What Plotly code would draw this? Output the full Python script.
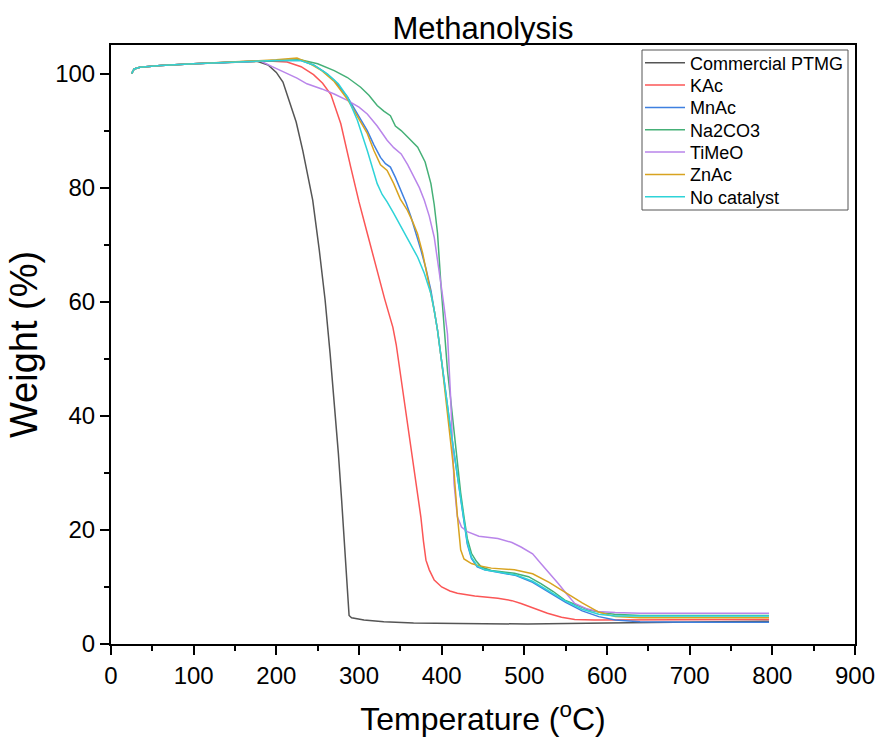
import plotly.graph_objects as go

# ---- data (temperature in degC, weight in %) ----
ptmg_T = [25, 28, 35, 60, 100, 150, 176, 190, 200, 208, 215, 224, 232, 238, 244, 252, 259, 265,
          270, 275, 279, 284, 288, 291, 306, 330, 366, 420, 504, 600, 700, 796]
ptmg_W = [100.0, 100.8, 101.1, 101.4, 101.7, 102.0, 102.2, 101.5, 100.2, 98.5, 95.5, 91.5, 86.5, 82.0, 77.8,
          69.0, 60.3, 51.0, 42.8, 33.5, 25.2, 15.0, 5.0, 4.6, 4.2, 3.9, 3.7, 3.6, 3.5, 3.7, 3.9, 4.0]

kac_T = [25, 28, 35, 60, 100, 150, 190, 213, 230, 245, 256, 266, 278, 290, 300, 310, 318, 326, 331, 336, 341,
         345, 350, 354.6, 360, 366.7, 371, 374.8, 378, 381, 385, 391, 400, 410, 419, 440, 468, 485, 496, 510, 528,
         545, 561, 585, 609, 700, 796]
kac_W = [100.0, 100.8, 101.1, 101.4, 101.7, 102.0, 102.2, 102.0, 101.2, 99.8, 98.3, 96.3, 91.2, 83.6, 77.5, 72.0,
         67.5, 63.2, 60.5, 58.0, 55.5, 52.5, 47.5, 42.7, 37.0, 31.0, 26.0, 22.3, 18.0, 14.7, 13.0, 11.2, 10.0, 9.3,
         8.9, 8.4, 8.0, 7.6, 7.1, 6.3, 5.4, 4.7, 4.3, 4.2, 4.2, 4.3, 4.3]

mnac_T = [25, 28, 35, 60, 100, 150, 200, 229, 245, 258, 270, 286, 298, 310, 318, 326, 332, 338, 344, 351, 357,
          363, 369, 375, 381, 387, 391, 395, 400, 405, 410, 415, 421, 427, 431, 436, 443, 452, 470, 490, 510, 530,
          550, 570, 590, 610, 640, 700, 796]
mnac_W = [100.0, 100.8, 101.1, 101.4, 101.7, 102.0, 102.3, 102.3, 101.5, 100.3, 98.8, 95.9, 93.0, 90.0, 87.5, 85.3,
          84.2, 83.6, 81.8, 79.5, 77.3, 74.8, 72.0, 69.0, 65.8, 62.0, 58.5, 55.0, 49.5, 43.5, 38.5, 33.5, 27.5,
          22.0, 17.5, 15.0, 13.5, 13.0, 12.5, 12.0, 10.8, 9.0, 7.3, 5.8, 4.8, 4.2, 3.9, 3.8, 3.8]

na2co3_T = [25, 28, 35, 60, 100, 150, 200, 229, 250, 270, 286, 302, 312, 322, 330, 338, 344, 351, 360, 371, 380,
            387, 391, 395, 399, 403, 407, 411, 415, 419, 423, 427, 431, 436, 442, 448, 460, 488, 505, 520, 535, 549,
            563, 577, 593, 609, 640, 700, 796]
na2co3_W = [100.0, 100.8, 101.1, 101.4, 101.7, 102.0, 102.3, 102.4, 101.7, 100.5, 99.3, 97.6, 96.2, 94.4, 93.4,
            92.6, 90.8, 90.0, 88.7, 87.1, 84.5, 80.7, 77.0, 72.0, 63.2, 55.0, 48.0, 42.7, 37.0, 31.0, 26.5, 22.3,
            18.5, 15.9, 14.5, 13.5, 12.9, 12.4, 11.8, 10.6, 9.2, 7.7, 6.8, 6.0, 5.5, 5.2, 5.0, 5.0, 5.0]

timeo_T = [25, 28, 35, 60, 100, 150, 181, 195, 213, 225, 237, 255, 270, 286, 300, 310, 322, 334, 342, 351, 359,
           367, 373, 379, 385, 391, 395, 399, 403, 407, 411, 415, 419, 424, 431, 445, 468, 485, 496, 510, 520, 530,
           541, 551, 561, 575, 589, 610, 640, 700, 796]
timeo_W = [100.0, 100.8, 101.1, 101.4, 101.7, 102.0, 102.2, 101.2, 100.0, 99.2, 98.2, 97.3, 96.4, 95.3, 94.1, 92.9,
           90.8, 88.3, 87.0, 85.9, 84.0, 81.8, 80.0, 77.8, 75.0, 71.3, 67.5, 63.2, 59.0, 54.4, 42.7, 28.1, 22.3,
           20.5, 19.7, 18.9, 18.5, 17.8, 17.0, 15.8, 14.1, 12.5, 10.6, 8.8, 7.1, 6.2, 5.7, 5.5, 5.4, 5.4, 5.4]

znac_T = [25, 28, 35, 60, 100, 150, 200, 225, 240, 255, 270, 286, 298, 310, 318, 326, 334, 342, 350, 358.6, 365,
          370.8, 377, 383, 387, 391, 395, 400, 405, 410, 415, 419, 423, 427, 431, 436, 445, 460, 488, 510, 530, 550,
          570, 590, 610, 640, 700, 796]
znac_W = [100.0, 100.8, 101.1, 101.4, 101.7, 102.0, 102.4, 102.7, 101.8, 100.5, 98.6, 95.5, 92.5, 89.5, 86.5, 84.0,
          83.0, 80.7, 78.0, 76.0, 74.0, 71.9, 68.5, 64.3, 61.5, 58.5, 55.0, 49.5, 43.0, 37.0, 30.0, 22.5, 16.5,
          14.9, 14.5, 14.1, 13.7, 13.3, 13.0, 12.3, 10.8, 9.0, 7.2, 5.6, 4.8, 4.6, 4.6, 4.6]

noc_T = [25, 28, 35, 60, 100, 150, 200, 229, 245, 262, 275, 286, 298, 310, 316, 322, 328, 334, 342, 351, 360, 371,
         379, 387, 391, 395, 400, 405, 410, 415, 421, 427, 431, 436, 443, 452, 470, 490, 510, 530, 550, 570, 590,
         610, 640, 700, 796]
noc_W = [100.0, 100.8, 101.1, 101.4, 101.7, 102.0, 102.3, 102.3, 101.5, 99.9, 98.2, 95.9, 91.8, 86.5, 83.5, 80.7,
         78.8, 77.5, 75.5, 73.1, 70.8, 67.8, 65.0, 61.4, 58.5, 55.0, 49.5, 43.5, 38.5, 33.5, 27.5, 22.2, 17.8, 15.2,
         13.7, 13.0, 12.6, 12.1, 11.0, 9.3, 7.5, 6.1, 5.2, 4.9, 4.9, 4.9, 4.9]

names = ["Commercial PTMG", "KAc", "MnAc", "Na2CO3", "TiMeO", "ZnAc", "No catalyst"]
colors = ["#555555", "#fb5656", "#3f80e0", "#45b077", "#b985ea", "#d8a320", "#2ed3d8"]
series = [(ptmg_T, ptmg_W), (kac_T, kac_W), (mnac_T, mnac_W), (na2co3_T, na2co3_W),
          (timeo_T, timeo_W), (znac_T, znac_W), (noc_T, noc_W)]

x_ticks = [0, 100, 200, 300, 400, 500, 600, 700, 800, 900]
y_ticks = [0, 20, 40, 60, 80, 100]

# plot-area geometry (pixels)
L, R, T, B = 111, 25, 45, 96
W_PX, H_PX = 880, 740
PW, PH = W_PX - L - R, H_PX - T - B


def px_x(x):
    return (x - L) / PW


def px_y(y):
    return (H_PX - B - y) / PH


fig = go.Figure()
FONT = "Liberation Sans, Arial, sans-serif"
legend_layout = {}
row0, row_step = 63, 22.35
for i, (name, color, (t, w)) in enumerate(zip(names, colors, series)):
    lg = "legend" if i == 0 else f"legend{i + 1}"
    fig.add_trace(go.Scatter(x=t, y=w, mode="lines", name=name, legend=lg,
                             line=dict(color=color, width=1.5)))
    legend_layout[lg] = dict(
        x=px_x(640), y=px_y(row0 + i * row_step), xanchor="left", yanchor="middle",
        bgcolor="rgba(0,0,0,0)", borderwidth=0, itemwidth=40,
        font=dict(size=18, color="black", family=FONT),
    )

fig.update_layout(
    width=W_PX, height=H_PX,
    margin=dict(l=L, r=R, t=T, b=B),
    paper_bgcolor="white", plot_bgcolor="white",
    font=dict(family=FONT, color="black"),
    title=dict(text="Methanolysis", x=0.5, xref="paper", y=1 - 28 / H_PX, yref="container",
               xanchor="center", yanchor="middle", font=dict(size=31, color="black")),
    showlegend=True,
    **legend_layout,
    shapes=[dict(type="rect", xref="paper", yref="paper",
                 x0=px_x(642), x1=px_x(848), y0=px_y(210), y1=px_y(50),
                 line=dict(color="#555555", width=1), fillcolor="rgba(0,0,0,0)", layer="above")],
)
fig.update_xaxes(
    range=[0, 900], tickvals=x_ticks, ticktext=[str(v) for v in x_ticks],
    showline=True, linecolor="black", linewidth=2, mirror=True,
    ticks="outside", ticklen=9, tickwidth=2, tickcolor="black",
    minor=dict(ticks="outside", ticklen=5, tickwidth=1.5, dtick=50, tickcolor="black"),
    showgrid=False, zeroline=False, automargin=False,
    tickfont=dict(size=24, color="black"),
    title=dict(text="Temperature (<sup>o</sup>C)", font=dict(size=32, color="black"), standoff=20),
)
fig.update_yaxes(
    range=[0, 105], tickvals=y_ticks, ticktext=[str(v) for v in y_ticks],
    showline=True, linecolor="black", linewidth=2, mirror=True,
    ticks="outside", ticklen=9, tickwidth=2, tickcolor="black",
    minor=dict(ticks="outside", ticklen=5, tickwidth=1.5, dtick=10, tickcolor="black"),
    showgrid=False, zeroline=False, automargin=False,
    tickfont=dict(size=24, color="black"),
    title=dict(text="Weight (%)", font=dict(size=38, color="black"), standoff=6),
)

fig.write_html("out.html")
